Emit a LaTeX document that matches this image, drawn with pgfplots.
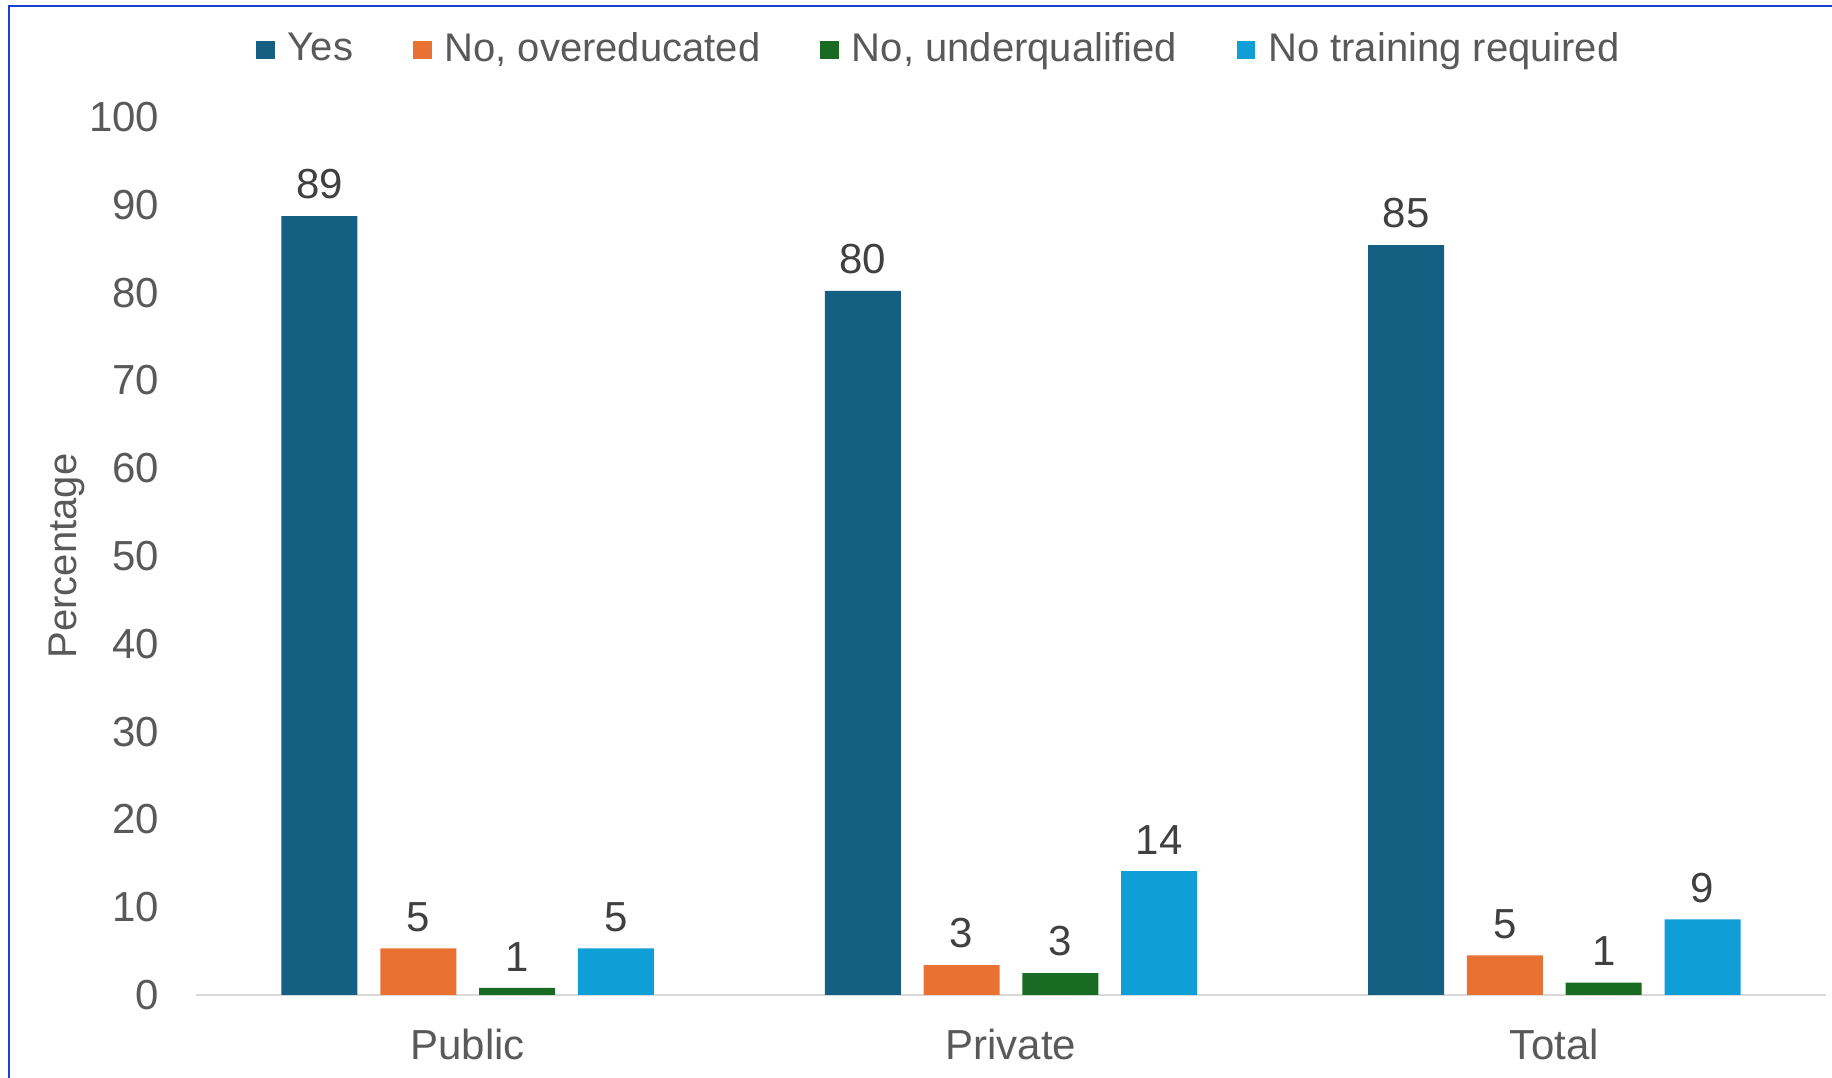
\documentclass[border=0pt]{standalone}
\usepackage{fontspec}
\setmainfont{Liberation Sans}
\usepackage{pgfplots}
\pgfplotsset{compat=1.18}
\definecolor{cYes}{HTML}{156082}
\definecolor{cOver}{HTML}{E97132}
\definecolor{cUnder}{HTML}{196B24}
\definecolor{cNone}{HTML}{0F9ED5}
\definecolor{txt}{HTML}{595959}
\definecolor{lbl}{HTML}{404040}
\definecolor{axl}{HTML}{D9D9D9}
\definecolor{frame}{HTML}{1A3FD6}
\begin{document}
\begin{tikzpicture}[font=\fontsize{10}{12}\selectfont]
\useasboundingbox (0,0) rectangle (458pt,269.5pt);
\draw[color=frame, line width=0.45pt] (2.25pt,-1pt) -- (2.25pt,268pt) -- (460pt,268pt);
\begin{axis}[
  at={(49pt,20.75pt)}, anchor=south west,
  scale only axis, width=407.5pt, height=219.5pt,
  xmin=-0.5, xmax=2.5, ymin=0, ymax=100,
  enlarge x limits=false, enlarge y limits=false,
  ybar=5.7pt, bar width=19pt,
  xtick={0,1,2}, xticklabels={Public,Private,Total},
  ytick={0,10,...,100},
  axis x line*=bottom, axis y line*=left,
  x axis line style={-, draw=axl, line width=0.5pt},
  y axis line style={draw=none},
  major tick length=0pt,
  tick label style={color=txt},
  xticklabel style={font=\fontsize{10.5}{12}\selectfont, anchor=north, inner sep=0pt, yshift=-8.3pt},
  yticklabel style={font=\fontsize{10.5}{12}\selectfont, anchor=east, inner sep=0pt, xshift=-9pt},
  /pgf/number format/assume math mode=true,
  ylabel={Percentage},
  every axis y label/.style={at={(axis description cs:-0.0795,0.5)}, rotate=90, anchor=center, color=txt, font=\fontsize{10}{12}\selectfont},
  nodes near coords, point meta=explicit symbolic,
  every node near coord/.append style={font=\fontsize{10.5}{12}\selectfont, color=lbl, anchor=south, inner sep=0pt, yshift=4pt},
  legend columns=4,
  legend image code/.code={\fill[#1] (0pt,-2.35pt) rectangle (4.7pt,2.35pt);},
  legend style={draw=none, fill=none, at={(axis description cs:0.4576,1.0763)}, anchor=center,
    font=\fontsize{10}{12}\selectfont, text=txt,
    /tikz/every odd column/.append style={column sep=1.2pt},
    /tikz/every even column/.append style={column sep=13pt}},
]
\addplot[draw=none, fill=cYes] coordinates {(0,88.7) [89] (1,80.2) [80] (2,85.4) [85]};
\addplot[draw=none, fill=cOver] coordinates {(0,5.3) [5] (1,3.4) [3] (2,4.5) [5]};
\addplot[draw=none, fill=cUnder] coordinates {(0,0.8) [1] (1,2.5) [3] (2,1.4) [1]};
\addplot[draw=none, fill=cNone] coordinates {(0,5.3) [5] (1,14.1) [14] (2,8.6) [9]};
\legend{Yes, {No, overeducated}, {No, underqualified}, No training required}
\end{axis}
\end{tikzpicture}
\end{document}
